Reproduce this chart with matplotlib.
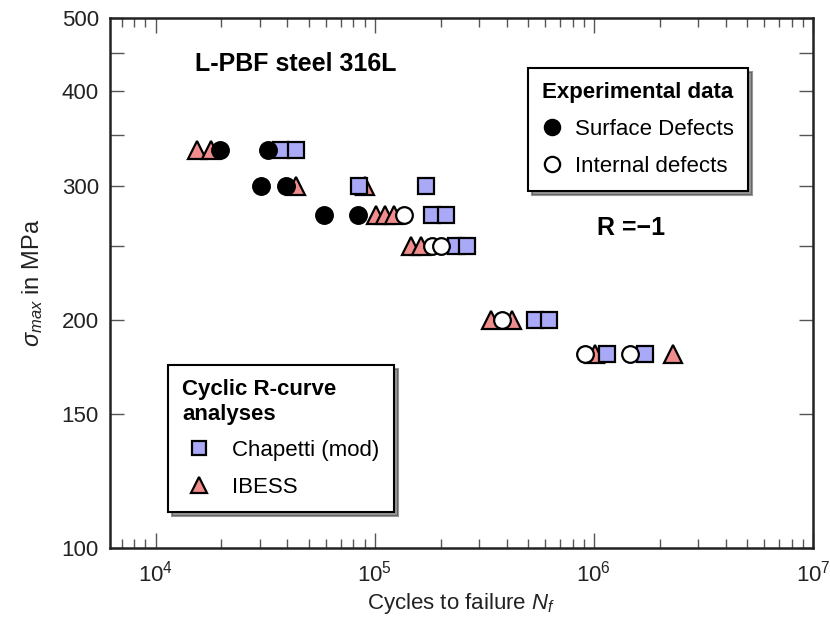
import numpy as np
import matplotlib.pyplot as plt
from matplotlib.lines import Line2D
from matplotlib.ticker import FixedLocator, NullFormatter, LogLocator, LogFormatterSciNotation

plt.rcParams['font.family'] = ['Liberation Sans', 'DejaVu Sans']
plt.rcParams['mathtext.fontset'] = 'custom'
plt.rcParams['mathtext.rm'] = 'Liberation Sans'
plt.rcParams['mathtext.it'] = 'Liberation Sans:italic'
plt.rcParams['mathtext.bf'] = 'Liberation Sans:bold'

# experimental data, surface defects (filled circles)
surf_N = [19700, 32700, 30400, 39500, 59000, 83700]
surf_S = [335, 335, 300, 300, 275, 275]
# experimental data, internal defects (open circles)
int_N = [136000, 183000, 200000, 382000, 912000, 1462000]
int_S = [275, 250, 250, 200, 180, 180]
# cyclic R-curve, Chapetti (mod)
chap_N = [37500, 43900, 85100, 171000, 183000, 211000, 234000, 265000,
          541000, 622000, 1146000, 1710000]
chap_S = [335, 335, 300, 300, 275, 275, 250, 250, 200, 200, 180, 180]
# cyclic R-curve, IBESS
ibess_N = [15400, 18000, 43900, 90300, 101000, 112000, 123000, 146000,
           162000, 338000, 424000, 1014000, 2301000]
ibess_S = [335, 335, 300, 300, 275, 275, 275, 250, 250, 200, 200, 180, 180]

y_major = [100, 150, 200, 300, 400, 500]
y_minor = [250, 350, 450]

sq_col = '#a9a9f7'
tri_col = '#f08c8c'
W, H = 830, 629

fig = plt.figure(figsize=(8.3, 6.29), dpi=100)
ax = fig.add_axes([110/W, 1-548/H, 703/W, 530/H])

ax.plot(ibess_N, ibess_S, ls='none', marker='^', ms=13, mfc=tri_col, mec='black', mew=1.6, zorder=2)
ax.plot(chap_N, chap_S, ls='none', marker='s', ms=11, mfc=sq_col, mec='black', mew=1.6, zorder=3)
ax.plot(int_N, int_S, ls='none', marker='o', ms=12, mfc='white', mec='black', mew=1.6, zorder=4)
ax.plot(surf_N, surf_S, ls='none', marker='o', ms=12, mfc='black', mec='black', mew=1.6, zorder=5)

ax.set_xscale('log')
ax.set_yscale('log')
ax.set_xlim(6200, 1e7)
ax.set_ylim(100, 500)

ax.xaxis.set_major_locator(LogLocator(base=10))
ax.xaxis.set_major_formatter(LogFormatterSciNotation())
ax.xaxis.set_minor_locator(LogLocator(base=10, subs=np.arange(2, 10)))
ax.xaxis.set_minor_formatter(NullFormatter())
ax.yaxis.set_major_locator(FixedLocator(y_major))
ax.yaxis.set_major_formatter(plt.FixedFormatter([str(v) for v in y_major]))
ax.yaxis.set_minor_locator(FixedLocator(y_minor))
ax.yaxis.set_minor_formatter(NullFormatter())

ax.tick_params(which='both', direction='in', top=True, right=True, colors='#555555',
               labelcolor='#222222', labelsize=16, width=1)
ax.tick_params(axis='x', which='major', length=11, pad=9)
ax.tick_params(axis='x', which='minor', length=6.5)
ax.tick_params(axis='y', which='both', length=10, pad=8)
for s in ax.spines.values():
    s.set_linewidth(1.8)
    s.set_color('#222222')

ax.set_xlabel('Cycles to failure $N_f$', fontsize=16, color='#222222', labelpad=3)
ax.set_ylabel(r'$\sigma_{max}$ in MPa', fontsize=17, color='#222222', labelpad=12)

fig.text(195/W, 1-64/H, 'L-PBF steel 316L', fontsize=18, fontweight='bold', va='center')
fig.text(597/W, 1-228/H, 'R =\u22121', fontsize=18, fontweight='bold', va='center')

shadow = {'ox': 3, 'oy': -3, 'color': '0.25', 'alpha': 0.55}

h1 = [Line2D([], [], ls='none', marker='o', ms=11, mfc='black', mec='black', mew=1.6),
      Line2D([], [], ls='none', marker='o', ms=11, mfc='white', mec='black', mew=1.6)]
leg1 = ax.legend(h1, ['Surface Defects', 'Internal defects'], title='Experimental data',
                 loc='upper left', bbox_to_anchor=((528-110)/703, (548-68)/530), fontsize=16,
                 title_fontproperties={'weight': 'bold', 'size': 16}, alignment='left',
                 frameon=True, fancybox=False, edgecolor='black', framealpha=1,
                 shadow=shadow, handlelength=0.9, handletextpad=0.6, labelspacing=0.72,
                 borderpad=0.62, borderaxespad=0)
leg1.get_frame().set_linewidth(1.5)
ax.add_artist(leg1)

h2 = [Line2D([], [], ls='none', marker='s', ms=10, mfc=sq_col, mec='black', mew=1.6),
      Line2D([], [], ls='none', marker='^', ms=11, mfc=tri_col, mec='black', mew=1.6)]
leg2 = ax.legend(h2, ['Chapetti (mod)', 'IBESS'], title='Cyclic R-curve\nanalyses',
                 loc='upper left', bbox_to_anchor=((168-110)/703, (548-365)/530), fontsize=16,
                 title_fontproperties={'weight': 'bold', 'size': 16}, alignment='left',
                 frameon=True, fancybox=False, edgecolor='black', framealpha=1,
                 shadow=shadow, handlelength=1.5, handletextpad=0.75, labelspacing=0.7,
                 borderpad=0.65, borderaxespad=0)
leg2.get_frame().set_linewidth(1.5)

fig.savefig('out.png', dpi=100)
